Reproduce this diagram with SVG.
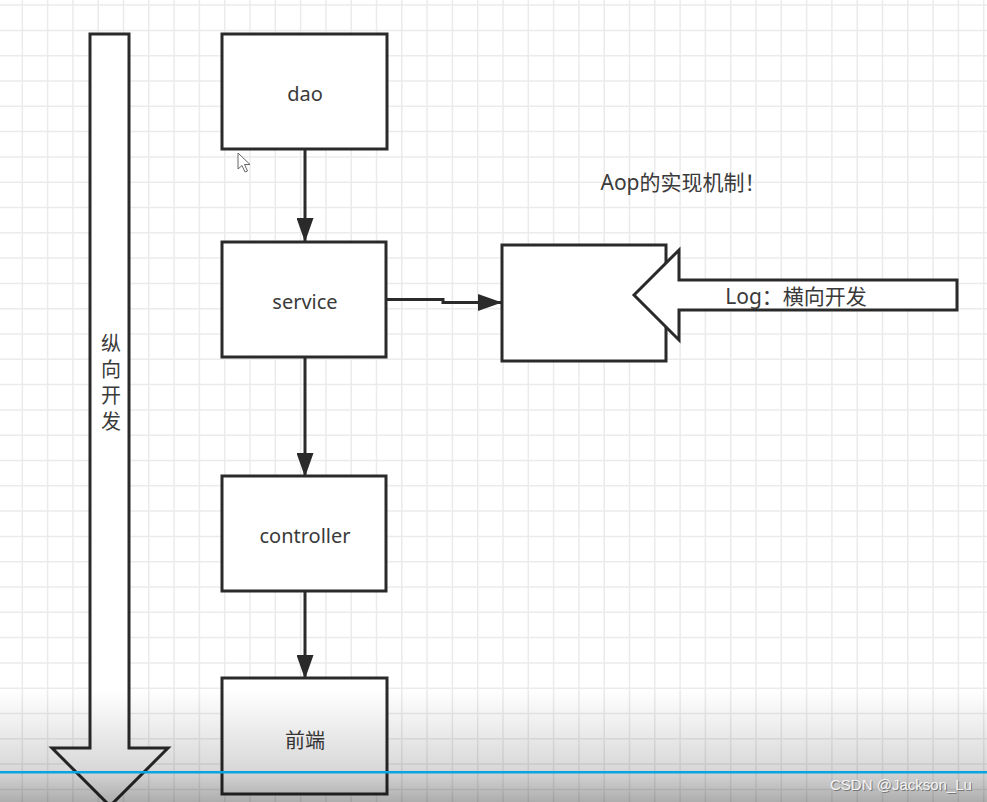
<svg xmlns="http://www.w3.org/2000/svg" width="987" height="802" viewBox="0 0 987 802">
<style>
.grid{stroke:#ebebeb;stroke-width:1.5;fill:none}
.box{fill:#ffffff;stroke:#2a2a2a;stroke-width:3}
.big{fill:#ffffff;stroke:#2a2a2a;stroke-width:3;stroke-linejoin:miter}
.lbl{font-family:"Noto Sans","Noto Sans CJK SC",sans-serif;font-size:20px;fill:#3a3a3a;text-anchor:middle;dominant-baseline:central}
.lg{font-size:21px}
.conn{fill:none;stroke:#2a2a2a;stroke-width:3}
</style>
<defs>
<marker id="ah" markerUnits="userSpaceOnUse" markerWidth="24" markerHeight="17" viewBox="0 0 24 17" refX="23" refY="8.5" orient="auto">
<path d="M0,0 L24,8.5 L0,17 z" fill="#2a2a2a"/>
</marker>
<linearGradient id="shade" x1="0" y1="0" x2="0" y2="1">
<stop offset="0" stop-color="#000" stop-opacity="0"/>
<stop offset="0.7" stop-color="#000" stop-opacity="0.15"/>
<stop offset="1" stop-color="#000" stop-opacity="0.32"/>
</linearGradient>
</defs>
<rect width="987" height="802" fill="#ffffff"/>
<g id="grid">
<path class="grid" d="M22.3,0V802M47.6,0V802M72.9,0V802M98.2,0V802M123.5,0V802M148.8,0V802M174.1,0V802M199.4,0V802M224.7,0V802M250,0V802M275.3,0V802M300.6,0V802M325.9,0V802M351.2,0V802M376.5,0V802M401.8,0V802M427.1,0V802M452.4,0V802M477.7,0V802M503,0V802M528.3,0V802M553.6,0V802M578.9,0V802M604.2,0V802M629.5,0V802M654.8,0V802M680.1,0V802M705.4,0V802M730.7,0V802M756,0V802M781.3,0V802M806.6,0V802M831.9,0V802M857.2,0V802M882.5,0V802M907.8,0V802M933.1,0V802M958.4,0V802M983.7,0V802"/>
<path class="grid" d="M0,5.1H987M0,30.4H987M0,55.7H987M0,81H987M0,106.3H987M0,131.6H987M0,156.9H987M0,182.2H987M0,207.5H987M0,232.8H987M0,258.1H987M0,283.4H987M0,308.7H987M0,334H987M0,359.3H987M0,384.6H987M0,409.9H987M0,435.2H987M0,460.5H987M0,485.8H987M0,511.1H987M0,536.4H987M0,561.7H987M0,587H987M0,612.3H987M0,637.6H987M0,662.9H987M0,688.2H987M0,713.5H987M0,738.8H987M0,764.1H987M0,789.4H987"/>
</g>
<g id="vertical-dev">
<polygon class="big" points="90,34 129,34 129,748 168,748 110,806 52,748 90,748"/>
<text class="lbl" x="111" y="343">纵</text>
<text class="lbl" x="111" y="369">向</text>
<text class="lbl" x="111" y="395">开</text>
<text class="lbl" x="111" y="421">发</text>
</g>
<g id="connectors">
<path class="conn" d="M305,149 V241" marker-end="url(#ah)"/>
<path class="conn" d="M305,357 V476" marker-end="url(#ah)"/>
<path class="conn" d="M305,591 V678" marker-end="url(#ah)"/>
<path class="conn" d="M386,299.5 H443 V302.5 H501" marker-end="url(#ah)"/>
</g>
<g id="dao">
<rect class="box" x="222" y="34" width="165" height="115"/>
<text class="lbl" x="305" y="93">dao</text>
</g>
<g id="service">
<rect class="box" x="222" y="242" width="164" height="115"/>
<text class="lbl" x="305" y="301">service</text>
</g>
<g id="controller">
<rect class="box" x="222" y="476" width="164" height="115"/>
<text class="lbl" x="305" y="535">controller</text>
</g>
<g id="frontend">
<rect class="box" x="222" y="678" width="165" height="116"/>
<text class="lbl" x="305" y="740">前端</text>
</g>
<g id="aop-box">
<rect class="box" x="502" y="245" width="164" height="116"/>
</g>
<g id="log-arrow">
<polygon class="big" points="634,295 679,250 679,280 957,280 957,310 679,310 679,340"/>
<text class="lbl lg" x="796" y="296">Log：横向开发</text>
</g>
<g id="aop-title">
<text class="lbl lg" x="683" y="182">Aop的实现机制！</text>
</g>
<g id="cursor">
<polygon points="238,153 238,169 242,165.5 245,172 247.5,171 244.5,164.5 250,164.5" fill="#ffffff" stroke="#666" stroke-width="1"/>
</g>
<rect x="0" y="690" width="987" height="112" fill="url(#shade)"/>
<rect x="0" y="771" width="987" height="2.5" fill="#0aa4e0"/>
<g id="watermark" font-family="'Liberation Sans',sans-serif" font-size="15">
<text x="831" y="791" fill="#777">CSDN @Jackson_Lu</text>
<text x="830" y="790" fill="#f4f4f4">CSDN @Jackson_Lu</text>
</g>
</svg>
